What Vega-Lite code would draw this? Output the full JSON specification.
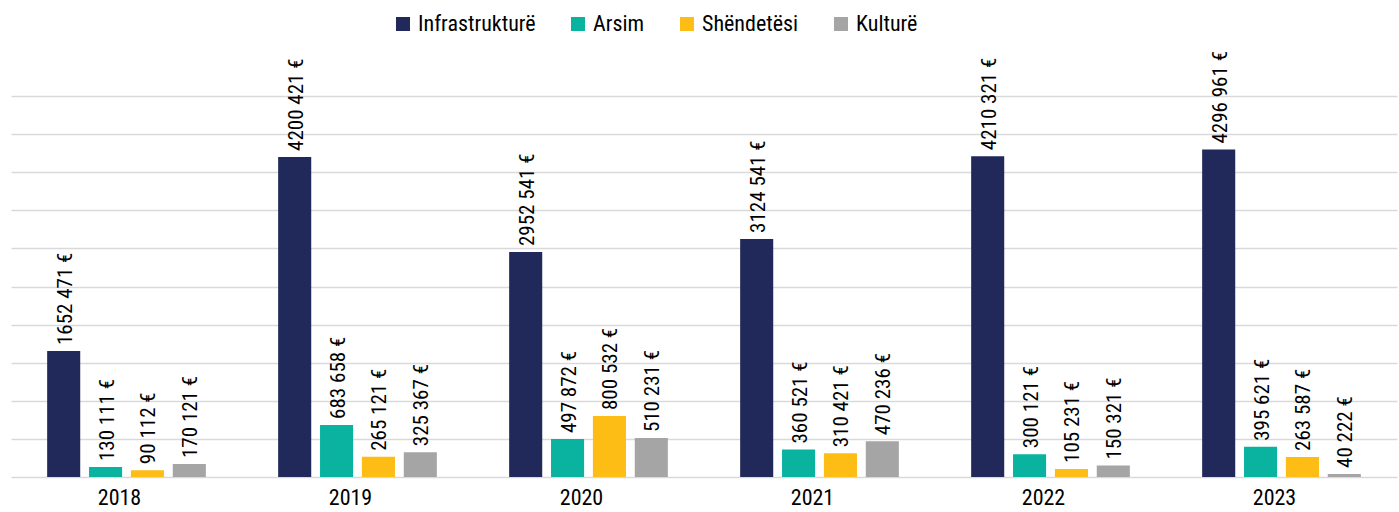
{
  "$schema": "https://vega.github.io/schema/vega-lite/v6.json",
  "width": 1386,
  "height": 381,
  "autosize": {"type": "none"},
  "padding": {"left": 11, "top": 96, "right": 2, "bottom": 35},
  "config": {"view": {"stroke": null}, "font": "'Roboto Condensed', 'DejaVu Sans Condensed', sans-serif"},
  "data": {
    "values": [
      {"year": "2018", "category": "Infrastrukturë", "value": 1652471, "label": "1652 471 €"},
      {"year": "2018", "category": "Arsim", "value": 130111, "label": "130 111 €"},
      {"year": "2018", "category": "Shëndetësi", "value": 90112, "label": "90 112 €"},
      {"year": "2018", "category": "Kulturë", "value": 170121, "label": "170 121 €"},
      {"year": "2019", "category": "Infrastrukturë", "value": 4200421, "label": "4200 421 €"},
      {"year": "2019", "category": "Arsim", "value": 683658, "label": "683 658 €"},
      {"year": "2019", "category": "Shëndetësi", "value": 265121, "label": "265 121 €"},
      {"year": "2019", "category": "Kulturë", "value": 325367, "label": "325 367 €"},
      {"year": "2020", "category": "Infrastrukturë", "value": 2952541, "label": "2952 541 €"},
      {"year": "2020", "category": "Arsim", "value": 497872, "label": "497 872 €"},
      {"year": "2020", "category": "Shëndetësi", "value": 800532, "label": "800 532 €"},
      {"year": "2020", "category": "Kulturë", "value": 510231, "label": "510 231 €"},
      {"year": "2021", "category": "Infrastrukturë", "value": 3124541, "label": "3124 541 €"},
      {"year": "2021", "category": "Arsim", "value": 360521, "label": "360 521 €"},
      {"year": "2021", "category": "Shëndetësi", "value": 310421, "label": "310 421 €"},
      {"year": "2021", "category": "Kulturë", "value": 470236, "label": "470 236 €"},
      {"year": "2022", "category": "Infrastrukturë", "value": 4210321, "label": "4210 321 €"},
      {"year": "2022", "category": "Arsim", "value": 300121, "label": "300 121 €"},
      {"year": "2022", "category": "Shëndetësi", "value": 105231, "label": "105 231 €"},
      {"year": "2022", "category": "Kulturë", "value": 150321, "label": "150 321 €"},
      {"year": "2023", "category": "Infrastrukturë", "value": 4296961, "label": "4296 961 €"},
      {"year": "2023", "category": "Arsim", "value": 395621, "label": "395 621 €"},
      {"year": "2023", "category": "Shëndetësi", "value": 263587, "label": "263 587 €"},
      {"year": "2023", "category": "Kulturë", "value": 40222, "label": "40 222 €"}
    ]
  },
  "encoding": {
    "x": {
      "field": "year", "type": "nominal",
      "scale": {"paddingInner": 0.313, "paddingOuter": 0.1565},
      "axis": {"title": null, "domain": false, "ticks": false, "labelFontSize": 22, "labelColor": "#000000", "labelPadding": 10, "labelAngle": 0, "labelOffset": -7, "grid": false}
    },
    "xOffset": {
      "field": "category", "type": "nominal",
      "sort": ["Infrastrukturë", "Arsim", "Shëndetësi", "Kulturë"],
      "scale": {"paddingInner": 0.21, "paddingOuter": 0}
    },
    "y": {
      "field": "value", "type": "quantitative",
      "scale": {"domain": [0, 5000000], "nice": false},
      "axis": {"title": null, "labels": false, "ticks": false, "domain": false,
        "values": [0, 500000, 1000000, 1500000, 2000000, 2500000, 3000000, 3500000, 4000000, 4500000, 5000000],
        "gridColor": "#d9d9d9", "gridWidth": 1.5}
    }
  },
  "layer": [
    {
      "mark": {"type": "bar"},
      "encoding": {
        "color": {
          "field": "category", "type": "nominal",
          "sort": ["Infrastrukturë", "Arsim", "Shëndetësi", "Kulturë"],
          "scale": {"domain": ["Infrastrukturë", "Arsim", "Shëndetësi", "Kulturë"], "range": ["#20295a", "#0ab3a0", "#fdbd14", "#a5a5a5"]},
          "legend": {
            "title": null, "orient": "none", "legendX": 381, "legendY": -83, "direction": "horizontal",
            "symbolType": "square", "symbolSize": 196, "symbolStrokeWidth": 0, "labelFontSize": 22, "labelColor": "#000000",
            "columnPadding": 31, "labelOffset": 4, "padding": 0
          }
        }
      }
    },
    {
      "mark": {"type": "text", "angle": 270, "align": "left", "baseline": "middle", "dx": 6, "dy": 2, "fontSize": 21, "color": "#000000"},
      "encoding": {"text": {"field": "label"}}
    }
  ]
}
